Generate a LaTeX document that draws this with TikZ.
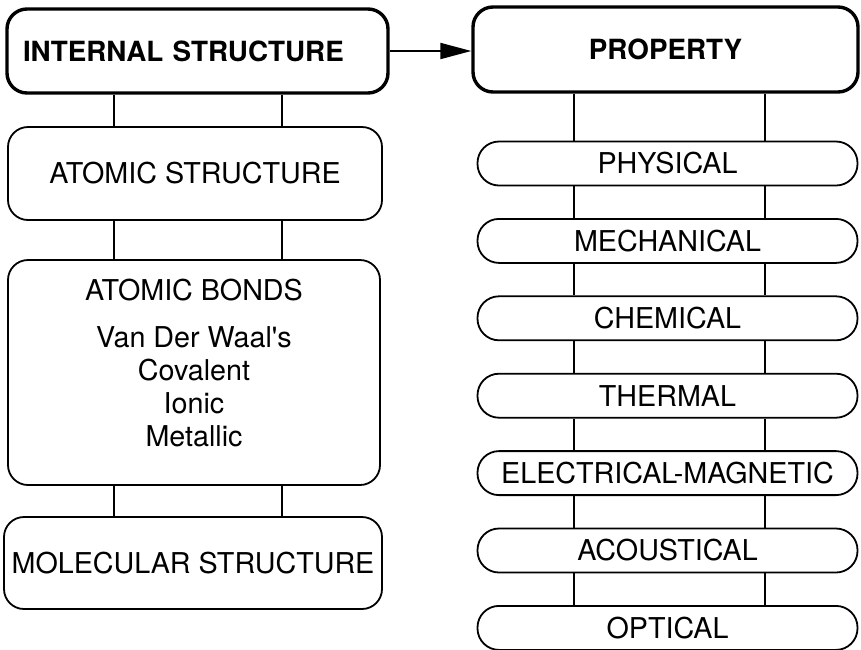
\documentclass[tikz,border=0pt]{standalone}
\usepackage{fontspec}
\setmainfont{TeX Gyre Heros}
\usetikzlibrary{arrows.meta}
\begin{document}
\begin{tikzpicture}[x=1pt,y=-1pt,
  every node/.style={font=\fontsize{28.7}{33}\selectfont},
  headbox/.style={draw,line width=3.4pt,rounded corners=20pt,inner sep=0pt,
    font=\fontsize{27.8}{33}\selectfont\bfseries},
  plainbox/.style={draw,line width=1.8pt,rounded corners=20pt,inner sep=0pt,align=center},
  pill/.style={draw,line width=1.8pt,rounded corners=21.5pt,inner sep=0pt,
    minimum width=380pt,minimum height=44pt},
  link/.style={line width=1.8pt},
  flow/.style={line width=2pt,-{Triangle[length=31pt,width=16pt]}}]
\useasboundingbox (0,0) rectangle (861,649);

% header boxes
\node[headbox,minimum height=84pt,text width=349pt,inner xsep=16pt,align=left]
  (int) at (197.5,51) {INTERNAL STRUCTURE};
\node[headbox,minimum width=385pt,minimum height=85pt] (prop) at (665.5,49.5) {PROPERTY};
\draw[flow] (int.east) -- (int.east -| prop.west);

% structure column
\node[plainbox,minimum width=374pt,minimum height=93pt] (atom) at (195,173.5) {ATOMIC STRUCTURE};
\node[plainbox,minimum width=372pt,minimum height=225pt] (bonds) at (194,372.5)
  {ATOMIC BONDS\\[14pt]Van Der Waal\textquotesingle s\\Covalent\\Ionic\\Metallic\rule[-20pt]{0pt}{20pt}};
\node[plainbox,minimum width=378pt,minimum height=92pt] (mol) at (193,563) {MOLECULAR STRUCTURE};

\coordinate (la) at (114,0);
\coordinate (lb) at (282,0);
\foreach \u/\v in {int/atom,atom/bonds,bonds/mol}{
  \draw[link] (\u.south -| la) -- (\v.north -| la);
  \draw[link] (\u.south -| lb) -- (\v.north -| lb);
}

% property column
\node[pill] (phys)  at (667.5,163.5) {PHYSICAL};
\node[pill] (mech)  at (667.5,240.9) {MECHANICAL};
\node[pill] (chem)  at (667.5,318.3) {CHEMICAL};
\node[pill] (therm) at (667.5,395.7) {THERMAL};
\node[pill] (elec)  at (667.5,473.1) {ELECTRICAL-MAGNETIC};
\node[pill] (acou)  at (667.5,550.5) {ACOUSTICAL};
\node[pill] (opt)   at (667.5,627.9) {OPTICAL};

\coordinate (ra) at (574,0);
\coordinate (rb) at (765,0);
\foreach \u/\v in {prop/phys,phys/mech,mech/chem,chem/therm,therm/elec,elec/acou,acou/opt}{
  \draw[link] (\u.south -| ra) -- (\v.north -| ra);
  \draw[link] (\u.south -| rb) -- (\v.north -| rb);
}
\end{tikzpicture}
\end{document}
